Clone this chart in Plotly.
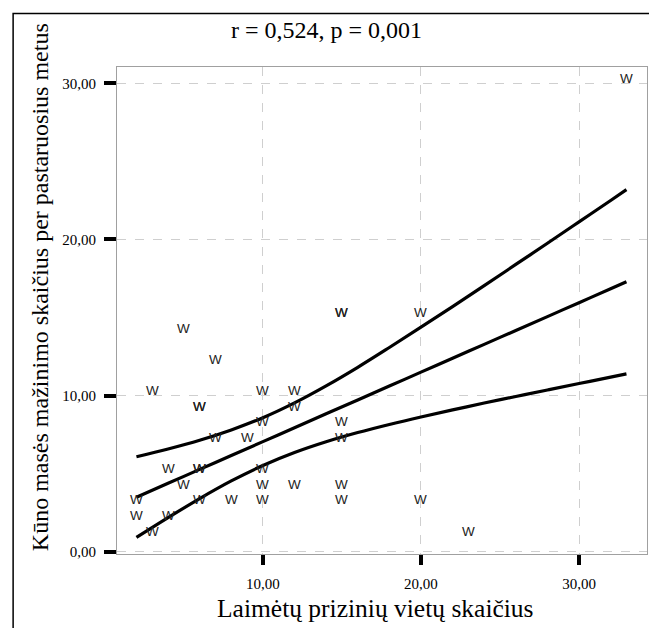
import plotly.graph_objects as go

# Scatter data (W markers)
pts_x = [2, 2, 3, 3, 4, 4, 5, 5, 6, 6, 6, 6, 6, 7, 7, 8, 9, 10, 10, 10, 10, 10,
         12, 12, 12, 15, 15, 15, 15, 15, 15, 20, 20, 23, 33]
pts_y = [3, 2, 10, 1, 5, 2, 14, 4, 9, 9, 5, 5, 3, 12, 7, 3, 7, 10, 8, 5, 4, 3,
         10, 9, 4, 15, 15, 8, 7, 4, 3, 15, 3, 1, 30]

# Fit line and confidence bands
line_x = [2, 4, 6, 8, 10, 12, 14, 16, 18, 20, 22, 24, 26, 28, 30, 32, 33]
fit_y = [3.49, 4.38, 5.27, 6.16, 7.05, 7.94, 8.83, 9.72, 10.61, 11.50,
         12.39, 13.28, 14.17, 15.06, 15.95, 16.84, 17.29]
upper_y = [6.08, 6.58, 7.14, 7.80, 8.58, 9.53, 10.62, 11.81, 13.08, 14.38,
           15.70, 17.04, 18.40, 19.76, 21.13, 22.50, 23.19]
lower_y = [0.91, 2.18, 3.40, 4.53, 5.52, 6.35, 7.04, 7.63, 8.15, 8.63,
           9.08, 9.52, 9.94, 10.36, 10.77, 11.18, 11.39]

x_ticks = [10, 20, 30]
x_ticktext = ["10,00", "20,00", "30,00"]
y_ticks = [0, 10, 20, 30]
y_ticktext = ["0,00", "10,00", "20,00", "30,00"]

title_text = "r = 0,524, p = 0,001"
x_title = "Laimėtų prizinių vietų skaičius"
y_title = "Kūno masės mažinimo skaičius per pastaruosius metus"

serif = "Liberation Serif, Times New Roman, serif"
sans = "Liberation Sans, Arial, sans-serif"

fig = go.Figure()
for ly in [fit_y, upper_y, lower_y]:
    fig.add_trace(go.Scatter(x=line_x, y=ly, mode="lines",
                             line=dict(color="black", width=3.2, shape="spline"),
                             hoverinfo="skip", showlegend=False))

# invisible trace so the point data lives on the axes too
fig.add_trace(go.Scatter(x=pts_x, y=pts_y, mode="markers",
                         marker=dict(size=1, opacity=0), hoverinfo="x+y",
                         showlegend=False))

axis_common = dict(showline=True, linecolor="#a0a0a0", linewidth=1, mirror=True,
                   showgrid=True, gridcolor="#cfcfcf", griddash="dash", gridwidth=1,
                   zeroline=False, ticks="outside", tickcolor="black", tickwidth=3.5,
                   tickfont=dict(family=serif, size=15, color="black"))

fig.update_xaxes(range=[0.77, 34.3], tickvals=x_ticks, ticktext=x_ticktext,
                 ticklen=10, ticklabelstandoff=6, **axis_common)
fig.update_yaxes(range=[-0.15, 31.05], tickvals=y_ticks, ticktext=y_ticktext,
                 ticklen=12, ticklabelstandoff=5, **axis_common)

annotations = [
    dict(x=px, y=py, xref="x", yref="y", text="W", showarrow=False,
         xanchor="center", yanchor="middle", yshift=5,
         font=dict(family=sans, size=13.5, color="#222222"))
    for px, py in zip(pts_x, pts_y)
]
annotations += [
    dict(text=title_text, x=0.396, y=1.075, xref="paper", yref="paper",
         showarrow=False, xanchor="center", yanchor="middle",
         font=dict(family=serif, size=24, color="black")),
    dict(text=x_title, x=0.4868, y=-0.1129, xref="paper", yref="paper",
         showarrow=False, xanchor="center", yanchor="middle",
         font=dict(family=serif, size=25.5, color="black")),
    dict(text=y_title, x=-0.1462, y=0.547, xref="paper", yref="paper",
         showarrow=False, xanchor="center", yanchor="middle", textangle=-90,
         font=dict(family=serif, size=24, color="black")),
]

fig.update_layout(
    width=649, height=628,
    margin=dict(l=117, r=2, t=67, b=74, pad=0),
    paper_bgcolor="white", plot_bgcolor="white",
    showlegend=False,
    annotations=annotations,
    shapes=[
        dict(type="rect", xref="paper", yref="paper", x0=-0.196, x1=1.2,
             y0=-0.3, y1=1.110, line=dict(color="black", width=1.5),
             fillcolor="rgba(0,0,0,0)", layer="below"),
    ],
)

fig.write_html("out.html")
